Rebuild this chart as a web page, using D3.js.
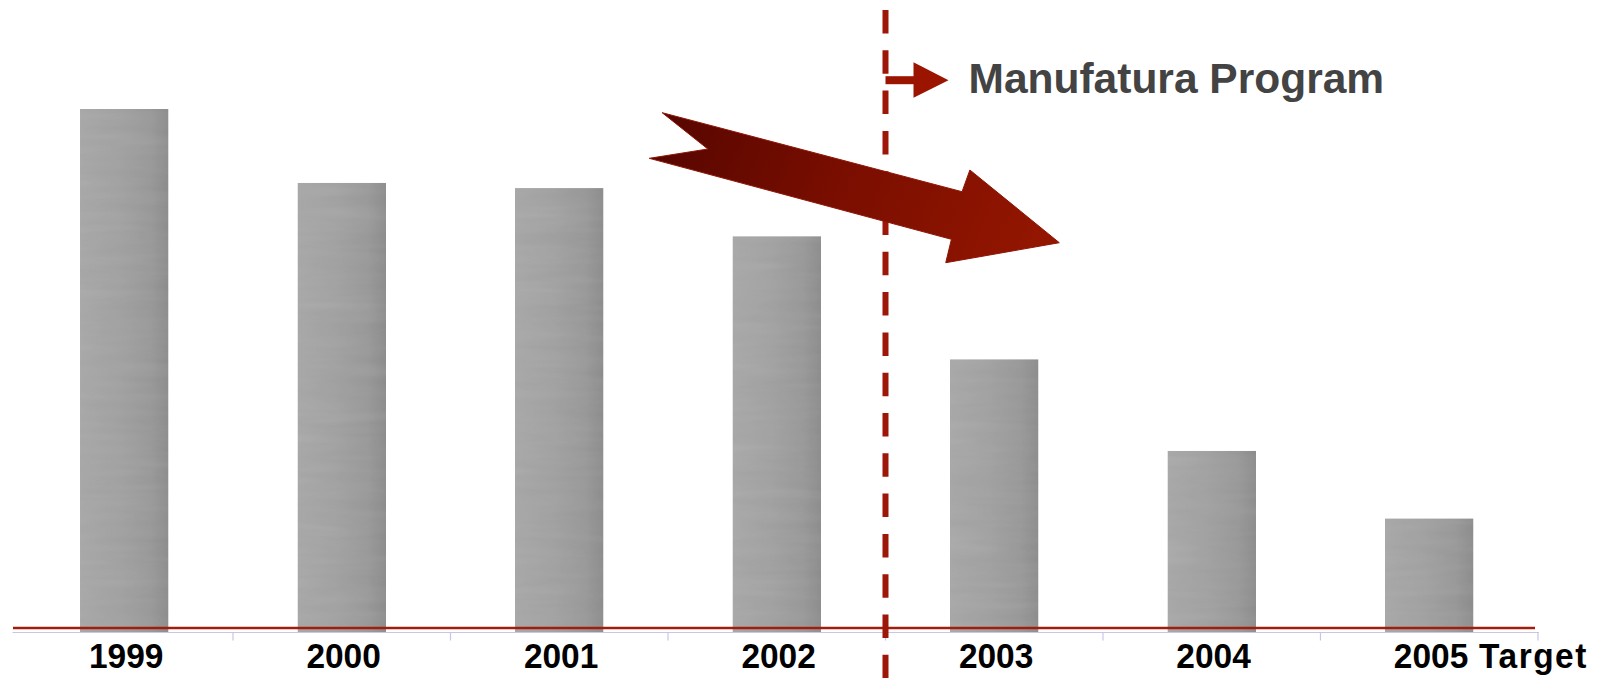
<!DOCTYPE html>
<html>
<head>
<meta charset="utf-8">
<script src="https://cdn.jsdelivr.net/npm/d3@7"></script>
<style>
  html, body { margin: 0; padding: 0; background: #ffffff; }
  svg { display: block; }
</style>
</head>
<body>
<svg id="chart" width="1599" height="678"></svg>
<script>
// ---- data ----
const categories = ["1999", "2000", "2001", "2002", "2003", "2004", "2005 Target"];
const values     = [100, 85.9, 84.9, 75.7, 52.2, 34.7, 21.8];
const programLabel = "Manufatura Program";
// big trend arrow, in data space: [category index (fractional), value]
const trendArrow = [
  [2.473, 99.3], [3.852, 84.2], [3.888, 88.35], [4.299, 74.46],
  [3.777, 70.64], [3.803, 75.11], [2.414, 90.58], [2.683, 92.36]
];
const programArrowValue = 105.5;

// ---- layout ----
const W = 1599, H = 678;
const svg = d3.select("#chart");

const x = d3.scaleBand()
  .domain(categories)
  .range([15.5, 1538])
  .paddingInner(0.593)
  .paddingOuter(0.2966);

const y = d3.scaleLinear().domain([0, 100]).range([632.5, 109]);

// continuous index scale aligned with band centers
const xi = d3.scaleLinear()
  .domain([-0.5, categories.length - 0.5])
  .range(x.range());

const defs = svg.append("defs");

const barGrad = defs.append("linearGradient")
  .attr("id", "barGrad").attr("x1", 0).attr("x2", 1).attr("y1", 0).attr("y2", 0);
[["0%", "#acacac"], ["45%", "#a6a6a6"], ["80%", "#9e9e9e"], ["100%", "#939393"]]
  .forEach(([o, c]) => barGrad.append("stop").attr("offset", o).attr("stop-color", c));

const f = defs.append("filter").attr("id", "tex")
  .attr("x", 0).attr("y", 0).attr("width", 1).attr("height", 1);
f.append("feTurbulence").attr("type", "fractalNoise")
  .attr("baseFrequency", "0.01 0.09").attr("numOctaves", 2).attr("seed", 4).attr("result", "n");
f.append("feColorMatrix").attr("in", "n").attr("type", "saturate").attr("values", 0).attr("result", "g");
f.append("feComposite").attr("in", "SourceGraphic").attr("in2", "g")
  .attr("operator", "arithmetic").attr("k1", 0).attr("k2", 1).attr("k3", 0.09).attr("k4", -0.045)
  .attr("result", "m");
f.append("feComposite").attr("in", "m").attr("in2", "SourceGraphic").attr("operator", "in");

const arrowGrad = defs.append("linearGradient")
  .attr("id", "arrowGrad").attr("gradientUnits", "userSpaceOnUse")
  .attr("x1", xi(2.4)).attr("y1", y(100)).attr("x2", xi(4.2)).attr("y2", y(72));
[["0%", "#530500"], ["50%", "#7a0e00"], ["100%", "#931600"]]
  .forEach(([o, c]) => arrowGrad.append("stop").attr("offset", o).attr("stop-color", c));

// ---- bars ----
svg.append("g").selectAll("rect")
  .data(categories)
  .join("rect")
  .attr("x", d => x(d))
  .attr("width", x.bandwidth())
  .attr("y", (d, i) => y(values[i]))
  .attr("height", (d, i) => y(0) - y(values[i]))
  .attr("fill", "url(#barGrad)")
  .attr("filter", "url(#tex)");

// ---- category axis (boundary ticks) ----
const axisG = svg.append("g");
const r0 = x.range()[0], r1 = x.range()[1];
axisG.append("line")
  .attr("x1", r0 - 3).attr("x2", r1 + 1)
  .attr("y1", y(0)).attr("y2", y(0))
  .attr("stroke", "#c6c6ea").attr("stroke-width", 1.2);
axisG.selectAll("line.tick")
  .data(d3.range(1, categories.length + 1))
  .join("line")
  .attr("class", "tick")
  .attr("x1", k => r0 + k * x.step()).attr("x2", k => r0 + k * x.step())
  .attr("y1", y(0)).attr("y2", y(0) + 8)
  .attr("stroke", "#c6c6ea").attr("stroke-width", 1.2);

// red baseline over the bars
svg.append("line")
  .attr("x1", r0 - 2.5).attr("x2", r1 - 3)
  .attr("y1", y(0) - 4.5).attr("y2", y(0) - 4.5)
  .attr("stroke", "#a31d0c").attr("stroke-width", 2.5);

// labels: year centred under its bar, suffix follows
const labels = svg.append("g")
  .attr("font-family", "'Liberation Sans', Arial, Helvetica, sans-serif")
  .attr("font-weight", "bold").attr("font-size", 36).attr("fill", "#000");
categories.forEach(c => {
  const parts = c.split(" ");
  const t = labels.append("text")
    .attr("text-anchor", "start")
    .attr("transform", `translate(${x(c) + x.bandwidth() / 2},668) scale(0.93,1)`);
  const yr = t.append("tspan").text(parts[0]);
  if (parts.length > 1) {
    t.append("tspan").attr("letter-spacing", 1.6).text(" " + parts.slice(1).join(" "));
  }
  const w = yr.node().getComputedTextLength();
  t.attr("x", -w / 2 + 2);
});

// ---- divider between actuals and program years ----
const i2 = categories.indexOf("2002"), i3 = categories.indexOf("2003");
const dividerX = ((x(categories[i2]) + x.bandwidth()) + x(categories[i3])) / 2;
svg.append("line")
  .attr("x1", dividerX).attr("x2", dividerX)
  .attr("y1", 10).attr("y2", H)
  .attr("stroke", "#9d1709").attr("stroke-width", 6)
  .attr("stroke-dasharray", "23.5 16.8");

// big trend arrow
svg.append("path")
  .attr("d", d3.line().x(p => xi(p[0])).y(p => y(p[1]))(trendArrow) + "Z")
  .attr("fill", "url(#arrowGrad)")
  .attr("stroke", "#8e1606").attr("stroke-width", 1);

// program arrow and label
const ay = y(programArrowValue);
svg.append("line")
  .attr("x1", dividerX).attr("x2", dividerX + 30)
  .attr("y1", ay).attr("y2", ay)
  .attr("stroke", "#9a1400").attr("stroke-width", 8);
svg.append("path")
  .attr("d", `M${dividerX + 28},${ay - 18}L${dividerX + 63},${ay}L${dividerX + 28},${ay + 17.5}Z`)
  .attr("fill", "#9a1400");
svg.append("text")
  .attr("x", dividerX + 83).attr("y", ay + 13)
  .attr("font-family", "'Liberation Sans', Arial, Helvetica, sans-serif")
  .attr("font-weight", "bold").attr("font-size", 42.5)
  .attr("fill", "#434343")
  .text(programLabel);
</script>
</body>
</html>
